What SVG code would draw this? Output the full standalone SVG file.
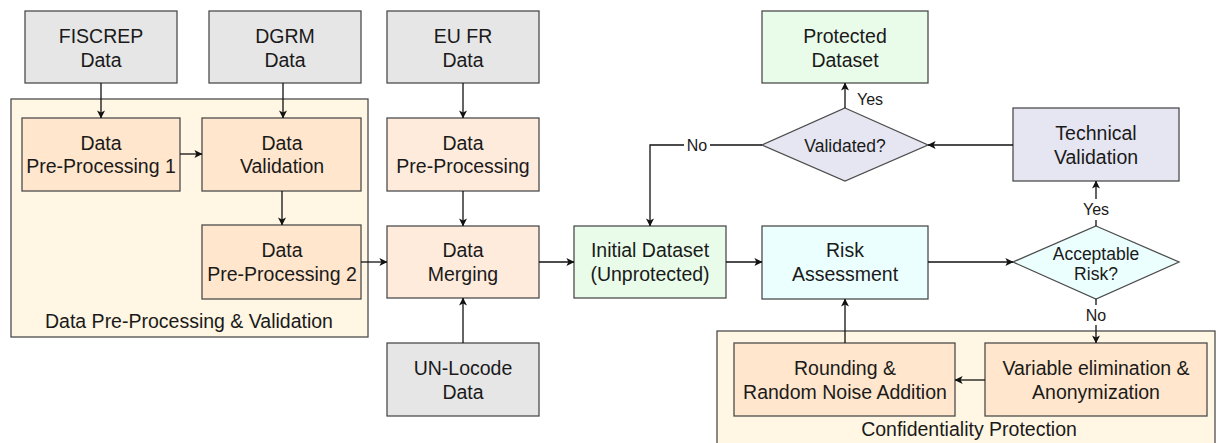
<svg xmlns="http://www.w3.org/2000/svg" width="1216" height="443" viewBox="0 0 1216 443">
<defs>
<marker id="arr" viewBox="0 0 10 10" refX="9.5" refY="5" markerWidth="8" markerHeight="8" markerUnits="userSpaceOnUse" orient="auto">
<path d="M0,0 L10,5 L0,10 L2.5,5 Z" fill="#111"/>
</marker>
<style>
text{font-family:"Liberation Sans",Arial,sans-serif;fill:#1a1a1a;text-anchor:middle}
.t{font-size:19.5px}
.d{font-size:17.5px}
.l{font-size:16px}
rect,polygon{stroke:#4d4d4d;stroke-width:1.3}
.gray{fill:#e6e6e6}
.org{fill:#ffe6cc}
.peach{fill:#ffebdc}
.green{fill:#e9fce9}
.cyan{fill:#ebffff}
.lav{fill:#e6e6f2}
.cont{fill:#fff6e3}
.c path{fill:none;stroke:#111;stroke-width:1.3;marker-end:url(#arr)}
.c line{stroke:#111;stroke-width:1.3}
</style>
</defs>
<rect width="1216" height="443" fill="#fff" style="stroke:none"/>

<g id="container-preprocessing">
<rect class="cont" x="11" y="99" width="357" height="238"/>
<text class="t" x="189" y="328">Data Pre-Processing &amp; Validation</text>
</g>
<g id="container-confidentiality">
<rect class="cont" x="717" y="331" width="498" height="130"/>
<text class="t" x="969" y="436">Confidentiality Protection</text>
</g>

<g id="fiscrep"><rect class="gray" x="25" y="11" width="152" height="72"/><text class="t" x="101" y="43">FISCREP</text><text class="t" x="101" y="67">Data</text></g>
<g id="dgrm"><rect class="gray" x="209" y="11" width="152" height="72"/><text class="t" x="285" y="43">DGRM</text><text class="t" x="285" y="67">Data</text></g>
<g id="eufr"><rect class="gray" x="387" y="11" width="152" height="72"/><text class="t" x="463" y="43">EU FR</text><text class="t" x="463" y="67">Data</text></g>
<g id="dpp1"><rect class="org" x="22" y="118" width="158" height="73"/><text class="t" x="101" y="150">Data</text><text class="t" x="101" y="173">Pre-Processing 1</text></g>
<g id="dval"><rect class="org" x="202" y="118" width="159" height="73"/><text class="t" x="282" y="150">Data</text><text class="t" x="282" y="173">Validation</text></g>
<g id="dpp2"><rect class="org" x="202" y="225" width="159" height="74"/><text class="t" x="282" y="257">Data</text><text class="t" x="282" y="281">Pre-Processing 2</text></g>
<g id="dpp"><rect class="peach" x="387" y="118" width="152" height="73"/><text class="t" x="463" y="150">Data</text><text class="t" x="463" y="173">Pre-Processing</text></g>
<g id="merge"><rect class="peach" x="387" y="226" width="152" height="72"/><text class="t" x="463" y="257">Data</text><text class="t" x="463" y="281">Merging</text></g>
<g id="unlocode"><rect class="gray" x="387" y="343" width="152" height="73"/><text class="t" x="463" y="375">UN-Locode</text><text class="t" x="463" y="399">Data</text></g>
<g id="initial"><rect class="green" x="574" y="226" width="152" height="72"/><text class="t" x="650" y="257">Initial Dataset</text><text class="t" x="650" y="281">(Unprotected)</text></g>
<g id="risk"><rect class="cyan" x="762" y="226" width="166" height="73"/><text class="t" x="845" y="257">Risk</text><text class="t" x="845" y="281">Assessment</text></g>
<g id="protected"><rect class="green" x="762" y="11" width="166" height="72"/><text class="t" x="845" y="43">Protected</text><text class="t" x="845" y="67">Dataset</text></g>
<g id="validated"><polygon class="lav" points="845,108 928,145 845,181 762,145"/><text class="d" x="845" y="152">Validated?</text></g>
<g id="techval"><rect class="lav" x="1013" y="108" width="166" height="73"/><text class="t" x="1096" y="140">Technical</text><text class="t" x="1096" y="164">Validation</text></g>
<g id="acceptable"><polygon class="cyan" points="1096,226 1179,262 1096,299 1013,262"/><text class="d" x="1096" y="260">Acceptable</text><text class="d" x="1096" y="280">Risk?</text></g>
<g id="rounding"><rect class="org" x="734" y="343" width="221" height="73"/><text class="t" x="845" y="375">Rounding &amp;</text><text class="t" x="845" y="399">Random Noise Addition</text></g>
<g id="variable"><rect class="org" x="985" y="343" width="222" height="73"/><text class="t" x="1096" y="375">Variable elimination &amp;</text><text class="t" x="1096" y="399">Anonymization</text></g>

<g id="connectors" class="c">
<path d="M101,83 V118"/>
<path d="M283,83 V118"/>
<path d="M180,154 H202"/>
<path d="M282,191 V225"/>
<path d="M361,262 H387"/>
<path d="M463,83 V118"/>
<path d="M463,191 V226"/>
<path d="M463,343 V298"/>
<path d="M539,262 H574"/>
<path d="M726,262 H762"/>
<path d="M928,262 H1013"/>
<line x1="1096" y1="226" x2="1096" y2="220"/>
<path d="M1096,199 V181"/>
<path d="M1013,145 H928"/>
<path d="M845,108 V83"/>
<line x1="762" y1="145" x2="710" y2="145"/>
<path d="M684,145 H650 V226"/>
<line x1="1096" y1="299" x2="1096" y2="305"/>
<path d="M1096,325 V343"/>
<path d="M985,380 H955"/>
<path d="M845,343 V299"/>
<text class="l" x="870" y="105">Yes</text>
<text class="l" x="1096" y="215">Yes</text>
<text class="l" x="697" y="151">No</text>
<text class="l" x="1096" y="321">No</text>
</g>
</svg>
